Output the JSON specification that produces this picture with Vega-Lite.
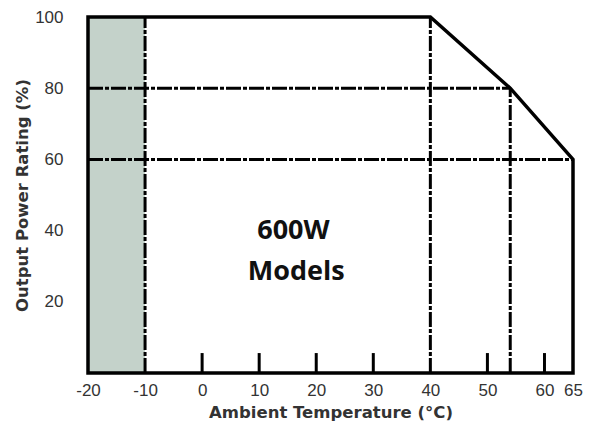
{
  "$schema": "https://vega.github.io/schema/vega-lite/v6.json",
  "width": 485,
  "height": 356,
  "autosize": {"type": "none"},
  "padding": {"left": 88, "top": 17, "right": 19, "bottom": 53},
  "background": "white",
  "config": {"view": {"stroke": null}},
  "datasets": {
    "shade": [{"x": -20, "x2": -10, "y": 0, "y2": 100}],
    "guides": [
      {"x": -10, "x2": -10, "y": 0, "y2": 100},
      {"x": 40, "x2": 40, "y": 0, "y2": 100},
      {"x": 54, "x2": 54, "y": 0, "y2": 80},
      {"x": -20, "x2": 54, "y": 80, "y2": 80},
      {"x": -20, "x2": 65, "y": 60, "y2": 60}
    ],
    "ticks": [
      {"x": 0, "y": 0, "y2": 5.6},
      {"x": 10, "y": 0, "y2": 5.6},
      {"x": 20, "y": 0, "y2": 5.6},
      {"x": 30, "y": 0, "y2": 5.6},
      {"x": 50, "y": 0, "y2": 5.6},
      {"x": 60, "y": 0, "y2": 5.6}
    ],
    "frame": [
      {"i": 1, "x": -20, "y": 0},
      {"i": 2, "x": -20, "y": 100},
      {"i": 3, "x": 40, "y": 100},
      {"i": 4, "x": 54, "y": 80},
      {"i": 5, "x": 65, "y": 60},
      {"i": 6, "x": 65, "y": 0},
      {"i": 7, "x": -20, "y": 0}
    ],
    "labels": [
      {"x": 16, "y": 40, "t": "600W"},
      {"x": 16.5, "y": 28.5, "t": "Models"}
    ]
  },
  "layer": [
    {
      "data": {"name": "shade"},
      "mark": {"type": "rect", "color": "#c4d2ca"},
      "encoding": {
        "x": {
          "field": "x", "type": "quantitative",
          "scale": {"domain": [-20, 65], "nice": false, "zero": false},
          "axis": {
            "values": [-20, -10, 0, 10, 20, 30, 40, 50, 60, 65],
            "labelExpr": "'' + datum.value",
            "title": "Ambient Temperature (°C)",
            "domain": false, "grid": false, "ticks": false,
            "labelFont": "Liberation Sans", "labelFontSize": 17, "labelColor": "#333333",
            "labelPadding": 9, "labelFlush": false,
            "titleFont": "DejaVu Sans", "titleFontWeight": "bold", "titleFontSize": 16.5, "titleColor": "#333333",
            "titlePadding": 6
          }
        },
        "x2": {"field": "x2"},
        "y": {
          "field": "y", "type": "quantitative",
          "scale": {"domain": [0, 100], "nice": false, "zero": false},
          "axis": {
            "values": [20, 40, 60, 80, 100],
            "title": "Output Power Rating (%)",
            "domain": false, "grid": false, "ticks": false,
            "labelFont": "Liberation Sans", "labelFontSize": 17, "labelColor": "#333333",
            "labelPadding": 25, "labelFlush": false,
            "titleFont": "DejaVu Sans", "titleFontWeight": "bold", "titleFontSize": 16.5, "titleColor": "#333333",
            "titlePadding": 4
          }
        },
        "y2": {"field": "y2"}
      }
    },
    {
      "data": {"name": "guides"},
      "mark": {"type": "rule", "color": "black", "strokeWidth": 3, "strokeDash": [15, 2, 4, 2]},
      "encoding": {
        "x": {"field": "x", "type": "quantitative"},
        "x2": {"field": "x2"},
        "y": {"field": "y", "type": "quantitative"},
        "y2": {"field": "y2"}
      }
    },
    {
      "data": {"name": "ticks"},
      "mark": {"type": "rule", "color": "black", "strokeWidth": 3},
      "encoding": {
        "x": {"field": "x", "type": "quantitative"},
        "y": {"field": "y", "type": "quantitative"},
        "y2": {"field": "y2"}
      }
    },
    {
      "data": {"name": "frame"},
      "mark": {"type": "line", "color": "black", "strokeWidth": 3.5, "strokeJoin": "miter", "strokeCap": "square"},
      "encoding": {
        "x": {"field": "x", "type": "quantitative"},
        "y": {"field": "y", "type": "quantitative"},
        "order": {"field": "i", "type": "quantitative"}
      }
    },
    {
      "data": {"name": "labels"},
      "mark": {"type": "text", "font": "Open Sans", "fontWeight": "bold", "fontSize": 27, "color": "#111111", "align": "center", "baseline": "middle"},
      "encoding": {
        "x": {"field": "x", "type": "quantitative"},
        "y": {"field": "y", "type": "quantitative"},
        "text": {"field": "t"}
      }
    }
  ]
}
